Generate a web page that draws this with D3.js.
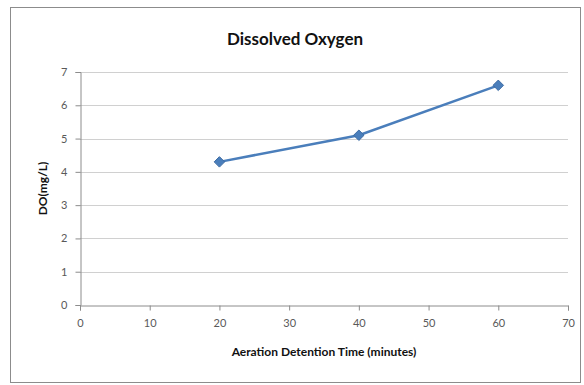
<!DOCTYPE html>
<html>
<head>
<meta charset="utf-8">
<script src="https://cdn.jsdelivr.net/npm/d3@7"></script>
<style>
  body { margin: 0; background: #fff; }
  text { font-family: Lato, "Open Sans", sans-serif; }
</style>
</head>
<body>
<svg id="chart" width="584" height="385"></svg>
<script>
// data
const times = [20, 40, 60];
const doValues = [4.3, 5.1, 6.6];
const xTicks = [0, 10, 20, 30, 40, 50, 60, 70];
const yTicks = [0, 1, 2, 3, 4, 5, 6, 7];

const svg = d3.select('#chart');
const margin = { left: 80, right: 16, top: 72, bottom: 80 };
const width = 584, height = 385;

// chart frame
svg.append('rect')
  .attr('x', 10.5)
  .attr('y', 7.5)
  .attr('width', 570)
  .attr('height', 375)
  .attr('fill', '#fff')
  .attr('stroke', '#8c8c8c')
  .attr('stroke-width', 1);

const x = d3.scaleLinear().domain([0, 70]).range([margin.left, width - margin.right]);
const y = d3.scaleLinear().domain([0, 7]).range([height - margin.bottom, margin.top]);

// gridlines
svg.append('g')
  .selectAll('line')
  .data(yTicks.slice(1))
  .join('line')
  .attr('x1', x(0))
  .attr('x2', x(70))
  .attr('y1', d => Math.round(y(d)) + 0.5)
  .attr('y2', d => Math.round(y(d)) + 0.5)
  .attr('stroke', '#d0d0d0')
  .attr('stroke-width', 1);

// axes
const yAxis = svg.append('g')
  .attr('transform', `translate(${x(0) + 0.5},0)`)
  .call(d3.axisLeft(y).tickValues(yTicks).tickFormat(d3.format('d')).tickSize(5).tickPadding(8));
const xAxis = svg.append('g')
  .attr('transform', `translate(0,${Math.round(y(0)) + 0.5})`)
  .call(d3.axisBottom(x).tickValues(xTicks).tickFormat(d3.format('d')).tickSize(5).tickPadding(9));

[xAxis, yAxis].forEach(ax => {
  ax.select('.domain').attr('stroke', '#8c8c8c');
  ax.selectAll('.tick line').attr('stroke', '#8c8c8c');
  ax.selectAll('.tick text')
    .attr('fill', '#595959')
    .style('font-size', '11px');
});

// series line
const pts = times.map((t, i) => [t, doValues[i]]);
svg.append('path')
  .datum(pts)
  .attr('fill', 'none')
  .attr('stroke', '#4a7ebb')
  .attr('stroke-width', 2.5)
  .attr('d', d3.line().x(d => x(d[0])).y(d => y(d[1])));

// diamond markers
svg.append('g')
  .selectAll('path')
  .data(pts)
  .join('path')
  .attr('transform', d => `translate(${x(d[0])},${y(d[1])})`)
  .attr('d', d3.symbol(d3.symbolDiamond2, 70))
  .attr('fill', '#4a7ebb')
  .attr('stroke', '#3d6ba3')
  .attr('stroke-width', 1);

// titles
svg.append('text')
  .attr('x', 295)
  .attr('y', 45)
  .attr('text-anchor', 'middle')
  .attr('font-size', '17px')
  .attr('font-weight', 'bold')
  .attr('fill', '#111')
  .text('Dissolved Oxygen');

svg.append('text')
  .attr('x', (x(0) + x(70)) / 2)
  .attr('y', 356)
  .attr('text-anchor', 'middle')
  .attr('font-size', '12px')
  .attr('font-weight', 'bold')
  .attr('fill', '#111')
  .text('Aeration Detention Time (minutes)');

svg.append('text')
  .attr('transform', `translate(47,${(y(0) + y(7)) / 2}) rotate(-90)`)
  .attr('text-anchor', 'middle')
  .attr('font-size', '12px')
  .attr('font-weight', 'bold')
  .attr('fill', '#111')
  .text('DO(mg/L)');
</script>
</body>
</html>
